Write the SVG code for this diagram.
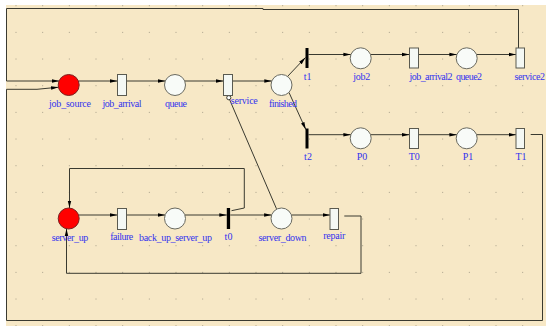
<svg xmlns="http://www.w3.org/2000/svg" width="546" height="326" viewBox="0 0 546 326">
<style>
.arc{fill:none;stroke:#3a3a30;stroke-width:1}
.pl{fill:#f8fbf8;stroke:#6a6a60;stroke-width:1}
.tok{fill:#ff0000;stroke:#7a2020;stroke-width:1}
.tr{fill:#f4f8f4;stroke:#5a5a50;stroke-width:1}
.bar{fill:#000}
.lbl{font-family:"Liberation Serif",serif;font-size:10px;fill:#3232ee;text-anchor:middle}
</style>
<defs>
<marker id="ah" markerUnits="userSpaceOnUse" markerWidth="8" markerHeight="6" viewBox="0 0 8 6" refX="7.5" refY="3" orient="auto">
<path d="M0,1.2 L7.5,3 L0,4.8 Z" fill="#000"/>
</marker>
<pattern id="grid" patternUnits="userSpaceOnUse" x="15.5" y="5.2" width="26.667" height="26.667">
<rect x="0" y="0" width="1" height="1" fill="#a8a08a"/>
</pattern>
</defs>
<rect x="0" y="0" width="546" height="326" fill="#ffffff"/>
<rect x="6" y="5" width="540" height="321" fill="#f7e8c6"/>
<rect x="0" y="0" width="546" height="326" fill="url(#grid)"/>
<g id="connectors">
<path class="arc" marker-end="url(#ah)" d="M79,81 H117.5"/>
<path class="arc" marker-end="url(#ah)" d="M126.5,81 H165.5"/>
<path class="arc" marker-end="url(#ah)" d="M184.7,81 H223.5"/>
<path class="arc" marker-end="url(#ah)" d="M232.5,81 H271.8"/>
<path class="arc" marker-end="url(#ah)" d="M287.5,76.5 L305.5,57.5"/>
<path class="arc" marker-end="url(#ah)" d="M289,92.5 L305.8,129.5"/>
<path class="arc" marker-end="url(#ah)" d="M308.5,54.5 H350.9"/>
<path class="arc" marker-end="url(#ah)" d="M370.5,54.5 H409.5"/>
<path class="arc" marker-end="url(#ah)" d="M418.5,54.5 H456.9"/>
<path class="arc" marker-end="url(#ah)" d="M476.5,54.5 H516"/>
<path class="arc" marker-end="url(#ah)" d="M308.5,134.7 H350.9"/>
<path class="arc" marker-end="url(#ah)" d="M370.5,134.7 H409.5"/>
<path class="arc" marker-end="url(#ah)" d="M418.5,134.7 H456.9"/>
<path class="arc" marker-end="url(#ah)" d="M476.5,134.7 H516"/>
<path class="arc" marker-end="url(#ah)" d="M78.6,215 H117.5"/>
<path class="arc" marker-end="url(#ah)" d="M126.5,215 H165.1"/>
<path class="arc" marker-end="url(#ah)" d="M184.9,215 H226.8"/>
<path class="arc" marker-end="url(#ah)" d="M230.3,215 H271.6"/>
<path class="arc" marker-end="url(#ah)" d="M291.4,215 H330"/>
<path class="arc" marker-end="url(#ah)" d="M518.5,48 V9.5 H263 V8.5 H6.5 V81 H59.2"/>
<path class="arc" marker-end="url(#ah)" d="M530.7,134.5 H542.5 V320.5 H6.5 V89.3 H37 L58.5,87.2"/>
<path class="arc" marker-end="url(#ah)" d="M231.5,210.7 L244.3,208 V168.5 H69.5 V208"/>
<path class="arc" marker-end="url(#ah)" d="M344.3,216 H361 V273.3 H66.5 V228.8"/>
<path class="arc" d="M276.5,208.8 L229.6,99.6"/>
<circle cx="228.8" cy="97.7" r="2.1" fill="#ffffff" stroke="#3a3a30" stroke-width="1"/>
</g>
<g id="job_source"><circle class="tok" cx="68.7" cy="85" r="10.5"/><text class="lbl" x="70" y="107" textLength="42">job_source</text></g>
<g id="job_arrival"><rect class="tr" x="117.5" y="74.5" width="9" height="21"/><text class="lbl" x="122" y="107" textLength="39">job_arrival</text></g>
<g id="queue"><circle class="pl" cx="175" cy="85" r="10.5"/><text class="lbl" x="176" y="107" textLength="22">queue</text></g>
<g id="service"><rect class="tr" x="223.5" y="74.5" width="9" height="21"/><text class="lbl" x="244.3" y="104" textLength="27">service</text></g>
<g id="finished"><circle class="pl" cx="281.5" cy="85" r="10.5"/><text class="lbl" x="283" y="107" textLength="28">finished</text></g>
<g id="t1"><rect class="bar" x="305.5" y="48" width="3" height="20"/><text class="lbl" x="307.7" y="80">t1</text></g>
<g id="job2"><circle class="pl" cx="360.7" cy="58.3" r="10.5"/><text class="lbl" x="361.7" y="80" textLength="17">job2</text></g>
<g id="job_arrival2"><rect class="tr" x="409.5" y="48" width="9" height="20"/><text class="lbl" x="431" y="80" textLength="43">job_arrival2</text></g>
<g id="queue2"><circle class="pl" cx="466.7" cy="58.3" r="10.5"/><text class="lbl" x="469" y="80" textLength="26">queue2</text></g>
<g id="service2"><rect class="tr" x="516" y="48" width="8.5" height="20"/><text class="lbl" x="514.5" y="80" style="text-anchor:start" textLength="30.5">service2</text></g>
<g id="t2"><rect class="bar" x="305.5" y="128.5" width="3" height="20"/><text class="lbl" x="308" y="159.5">t2</text></g>
<g id="P0"><circle class="pl" cx="360.7" cy="138.3" r="10.5"/><text class="lbl" x="362" y="159.5">P0</text></g>
<g id="T0"><rect class="tr" x="409.5" y="128.5" width="9" height="20"/><text class="lbl" x="414.3" y="159.5">T0</text></g>
<g id="P1"><circle class="pl" cx="466.7" cy="138.3" r="10.5"/><text class="lbl" x="468" y="159.5">P1</text></g>
<g id="T1"><rect class="tr" x="516" y="128.5" width="8.5" height="20"/><text class="lbl" x="521" y="159.5">T1</text></g>
<g id="server_up"><circle class="tok" cx="68.7" cy="218.5" r="10.5"/><text class="lbl" x="70" y="241" textLength="36.7">server_up</text></g>
<g id="failure"><rect class="tr" x="117.5" y="208.5" width="9" height="21"/><text class="lbl" x="121.7" y="239.5" textLength="23">failure</text></g>
<g id="back_up_server_up"><circle class="pl" cx="175" cy="218.5" r="10.5"/><text class="lbl" x="175.5" y="241" textLength="73">back_up_server_up</text></g>
<g id="t0"><rect class="bar" x="226.8" y="208" width="3.3" height="21"/><text class="lbl" x="228.5" y="240">t0</text></g>
<g id="server_down"><circle class="pl" cx="281.5" cy="218.5" r="10.5"/><text class="lbl" x="282.5" y="241" textLength="48">server_down</text></g>
<g id="repair"><rect class="tr" x="330" y="208.5" width="8.5" height="21"/><text class="lbl" x="334.3" y="238.5" textLength="22">repair</text></g>
</svg>
